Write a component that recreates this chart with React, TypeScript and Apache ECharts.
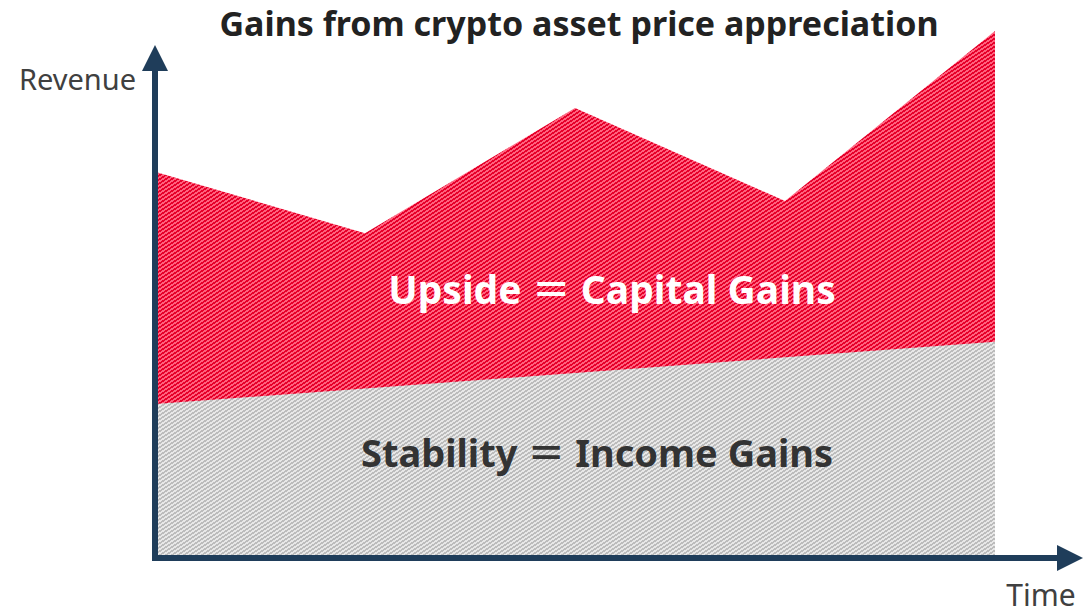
import React, { useEffect, useRef } from "react";
import * as echarts from "echarts";

// Data (relative revenue units; 0 = time axis, 100 = top of vertical axis line)
const periods = [0, 1, 2, 3, 4];
const totalRevenue = [79.3, 66.7, 92.4, 73.3, 108.2]; // income + capital gains
const incomeGains = [31.6, 34.8, 38.0, 41.2, 44.4];

const titleText = "Gains from crypto asset price appreciation";
const yName = "Revenue";
const xName = "Time";
const upsideLabel = "Upside ＝ Capital Gains";
const stabilityLabel = "Stability ＝ Income Gains";

const FONT = "'Noto Sans', 'Noto Sans CJK JP', sans-serif";

// stripe tile: value (2x + 3y) mod 12 -> tile 6 x 4, shallow "/" stripes
function stripeTile(dark: [number, number, number], light: [number, number, number]) {
  const W = 6, H = 4, P = 12;
  const c = document.createElement("canvas");
  c.width = W;
  c.height = H;
  const ctx = c.getContext("2d")!;
  const img = ctx.createImageData(W, H);
  for (let y = 0; y < H; y++) {
    for (let x = 0; x < W; x++) {
      const k = (2 * x + 3 * y) % P;
      const col = k < P / 2 ? dark : light;
      const i = (y * W + x) * 4;
      img.data[i] = col[0];
      img.data[i + 1] = col[1];
      img.data[i + 2] = col[2];
      img.data[i + 3] = 255;
    }
  }
  ctx.putImageData(img, 0, 0);
  return { image: c as any, repeat: "repeat", imageWidth: W, imageHeight: H } as any;
}

export default function App() {
  const ref = useRef<HTMLDivElement>(null);
  useEffect(() => {
    if (!ref.current) return;
    const chart = echarts.init(ref.current, null, { renderer: "svg" });
    const gridLeft = 155;
    const gridRightPx = 1057;
    const dataEndPx = 995;
    const xMax = (periods[periods.length - 1] * (gridRightPx - gridLeft)) / (dataEndPx - gridLeft);
    const axisColor = "#1f3d5a";
    const redPattern = stripeTile([230, 0, 42], [255, 98, 126]);
    const grayPattern = stripeTile([188, 188, 188], [232, 232, 232]);
    chart.setOption({
      animation: false,
      backgroundColor: "#ffffff",
      grid: { left: gridLeft, right: 1090 - gridRightPx, top: 71, bottom: 614 - 558 },
      xAxis: {
        type: "value",
        min: 0,
        max: xMax,
        z: 10,
        axisLabel: { show: false },
        axisTick: { show: false },
        splitLine: { show: false },
        axisLine: {
          show: true,
          onZero: false,
          symbol: ["none", "triangle"],
          symbolSize: [26, 26],
          symbolOffset: [0, 13],
          lineStyle: { color: axisColor, width: 6, cap: "square" },
        },
      },
      yAxis: {
        type: "value",
        min: 0,
        max: 100,
        z: 10,
        axisLabel: { show: false },
        axisTick: { show: false },
        splitLine: { show: false },
        axisLine: {
          show: true,
          symbol: ["none", "triangle"],
          symbolSize: [26, 26],
          symbolOffset: [0, 13],
          lineStyle: { color: axisColor, width: 6, cap: "square" },
        },
      },
      series: [
        {
          name: "Capital Gains",
          type: "line",
          clip: false,
          z: 1,
          symbol: "none",
          silent: true,
          lineStyle: { width: 0 },
          areaStyle: { color: redPattern, opacity: 1 },
          data: periods.map((p, i) => [p, totalRevenue[i]]),
        },
        {
          name: "Income Gains",
          type: "line",
          clip: false,
          z: 2,
          symbol: "none",
          silent: true,
          lineStyle: { width: 0 },
          areaStyle: { color: grayPattern, opacity: 1 },
          data: periods.map((p, i) => [p, incomeGains[i]]),
        },
      ],
      graphic: [
        {
          type: "text",
          x: 579,
          y: 23,
          z: 20,
          style: {
            text: titleText,
            font: `bold 34px ${FONT}`,
            fill: "#222222",
            textAlign: "center",
            textVerticalAlign: "middle",
          },
        },
        {
          type: "text",
          x: 136,
          y: 78,
          z: 20,
          style: {
            text: yName,
            font: `29px ${FONT}`,
            fill: "#404040",
            textAlign: "right",
            textVerticalAlign: "middle",
          },
        },
        {
          type: "text",
          x: 1041,
          y: 594,
          z: 20,
          style: {
            text: xName,
            font: `30px ${FONT}`,
            fill: "#404040",
            textAlign: "center",
            textVerticalAlign: "middle",
          },
        },
        {
          type: "text",
          x: 612,
          y: 288,
          z: 20,
          style: {
            text: upsideLabel,
            font: `bold 39px ${FONT}`,
            fill: "#ffffff",
            textAlign: "center",
            textVerticalAlign: "middle",
          },
        },
        {
          type: "text",
          x: 597,
          y: 452,
          z: 20,
          style: {
            text: stabilityLabel,
            font: `bold 38px ${FONT}`,
            fill: "#333333",
            textAlign: "center",
            textVerticalAlign: "middle",
          },
        },
      ],
    });
    return () => chart.dispose();
  }, []);
  return (
    <div
      ref={ref}
      style={{ position: "fixed", left: 0, top: 0, width: 1090, height: 614 }}
    />
  );
}
